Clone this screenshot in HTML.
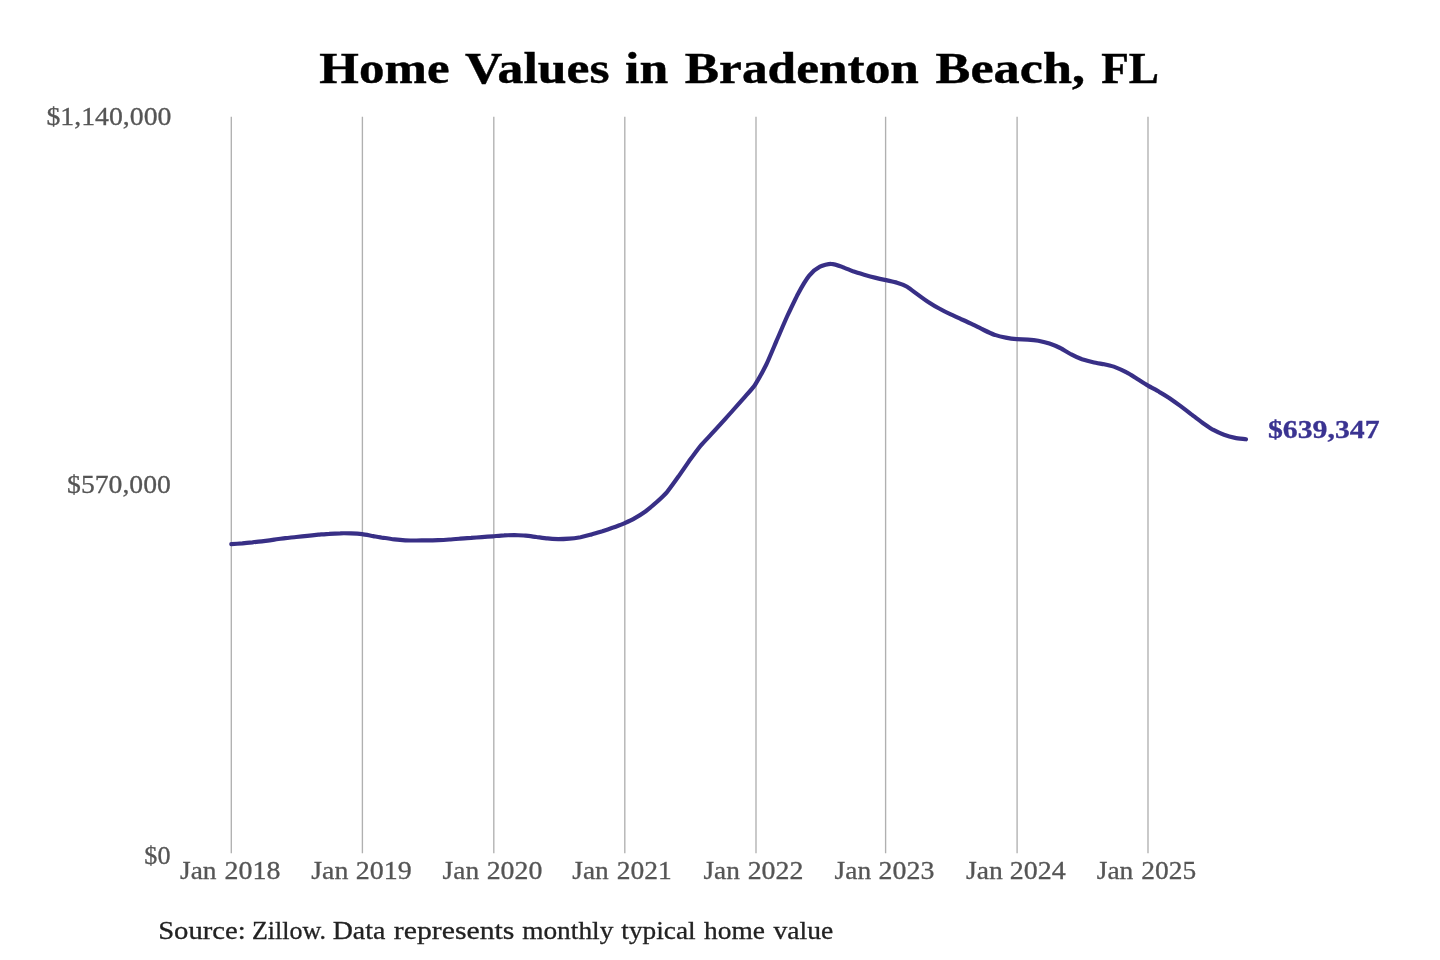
<!DOCTYPE html>
<html lang="en">
<head>
<meta charset="utf-8">
<title>Home Values in Bradenton Beach, FL</title>
<style>
  html, body { margin:0; padding:0; background:#ffffff; }
  body { width:1440px; height:960px; overflow:hidden; font-family:"Liberation Serif", serif; }
  svg { display:block; filter:blur(0.45px); }
  text { font-family:"Liberation Serif", serif; }
  .title { font-weight:bold; font-size:43.4px; fill:#000000; stroke:#000000; stroke-width:0.4px; }
  .ylab { font-size:25.3px; fill:#555555; stroke:#555555; stroke-width:0.3px; }
  .xlab { font-size:25.3px; fill:#555555; stroke:#555555; stroke-width:0.3px; }
  .endlab { font-weight:bold; font-size:24.8px; fill:#3a3391; stroke:#3a3391; stroke-width:0.3px; }
  .foot { font-size:25.3px; fill:#222222; stroke:#222222; stroke-width:0.3px; }
  .grid line { stroke:#b0b0b0; stroke-width:1.35; }
  .series { fill:none; stroke:#382f86; stroke-width:4.2; stroke-linecap:round; stroke-linejoin:round; }
</style>
</head>
<body>
<svg width="1440" height="960" viewBox="0 0 1440 960">
  <rect x="0" y="0" width="1440" height="960" fill="#ffffff"/>
  <text class="title" y="82.7"><tspan x="319.38" textLength="130.12" lengthAdjust="spacingAndGlyphs">Home</tspan> <tspan x="465.02" textLength="144.52" lengthAdjust="spacingAndGlyphs">Values</tspan> <tspan x="625.10" textLength="43.11" lengthAdjust="spacingAndGlyphs">in</tspan> <tspan x="684.85" textLength="234.07" lengthAdjust="spacingAndGlyphs">Bradenton</tspan> <tspan x="935.63" textLength="149.37" lengthAdjust="spacingAndGlyphs">Beach,</tspan> <tspan x="1101.26" textLength="57.79" lengthAdjust="spacingAndGlyphs">FL</tspan></text>
  <g class="grid">
    <line x1="231.3" y1="116.7" x2="231.3" y2="853.3"/>
    <line x1="362.4" y1="116.7" x2="362.4" y2="853.3"/>
    <line x1="493.8" y1="116.7" x2="493.8" y2="853.3"/>
    <line x1="624.8" y1="116.7" x2="624.8" y2="853.3"/>
    <line x1="756.0" y1="116.7" x2="756.0" y2="853.3"/>
    <line x1="885.6" y1="116.7" x2="885.6" y2="853.3"/>
    <line x1="1017.1" y1="116.7" x2="1017.1" y2="853.3"/>
    <line x1="1148.0" y1="116.7" x2="1148.0" y2="853.3"/>
  </g>
  <g>
    <text class="ylab" y="124.5"><tspan x="46.46" textLength="124.96" lengthAdjust="spacingAndGlyphs">$1,140,000</tspan></text>
    <text class="ylab" y="492.7"><tspan x="67.09" textLength="103.80" lengthAdjust="spacingAndGlyphs">$570,000</tspan></text>
    <text class="ylab" y="863.7"><tspan x="144.39" textLength="26.16" lengthAdjust="spacingAndGlyphs">$0</tspan></text>
  </g>
  <g>
    <text class="xlab" y="879.3"><tspan x="180.10" textLength="36.47" lengthAdjust="spacingAndGlyphs">Jan</tspan> <tspan x="224.62" textLength="55.80" lengthAdjust="spacingAndGlyphs">2018</tspan></text>
    <text class="xlab" y="879.3"><tspan x="311.23" textLength="37.13" lengthAdjust="spacingAndGlyphs">Jan</tspan> <tspan x="355.81" textLength="55.96" lengthAdjust="spacingAndGlyphs">2019</tspan></text>
    <text class="xlab" y="879.3"><tspan x="442.60" textLength="36.49" lengthAdjust="spacingAndGlyphs">Jan</tspan> <tspan x="486.70" textLength="55.67" lengthAdjust="spacingAndGlyphs">2020</tspan></text>
    <text class="xlab" y="879.3"><tspan x="572.33" textLength="36.39" lengthAdjust="spacingAndGlyphs">Jan</tspan> <tspan x="616.68" textLength="54.99" lengthAdjust="spacingAndGlyphs">2021</tspan></text>
    <text class="xlab" y="879.3"><tspan x="703.47" textLength="36.39" lengthAdjust="spacingAndGlyphs">Jan</tspan> <tspan x="747.68" textLength="55.72" lengthAdjust="spacingAndGlyphs">2022</tspan></text>
    <text class="xlab" y="879.3"><tspan x="834.64" textLength="36.55" lengthAdjust="spacingAndGlyphs">Jan</tspan> <tspan x="878.60" textLength="55.78" lengthAdjust="spacingAndGlyphs">2023</tspan></text>
    <text class="xlab" y="879.3"><tspan x="966.09" textLength="36.80" lengthAdjust="spacingAndGlyphs">Jan</tspan> <tspan x="1009.73" textLength="55.95" lengthAdjust="spacingAndGlyphs">2024</tspan></text>
    <text class="xlab" y="879.3"><tspan x="1096.72" textLength="36.61" lengthAdjust="spacingAndGlyphs">Jan</tspan> <tspan x="1141.35" textLength="54.87" lengthAdjust="spacingAndGlyphs">2025</tspan></text>
  </g>
  <path class="series" d="M231.3 544.2 C232.5 544.1 240.1 543.5 242.4 543.3 C244.8 543.0 250.1 542.5 252.5 542.3 C254.8 542.0 261.1 541.4 263.6 541.1 C266.0 540.8 271.9 540.0 274.3 539.6 C276.8 539.3 283.0 538.4 285.4 538.1 C287.9 537.9 293.8 537.2 296.2 537.0 C298.6 536.8 304.8 536.2 307.3 535.9 C309.8 535.7 316.0 535.0 318.4 534.7 C320.8 534.5 326.7 533.9 329.2 533.8 C331.6 533.6 337.9 533.3 340.3 533.3 C342.7 533.2 348.6 533.3 351.0 533.4 C353.5 533.5 359.7 533.9 362.2 534.2 C364.6 534.5 370.9 535.7 373.3 536.1 C375.6 536.5 381.0 537.5 383.3 537.8 C385.7 538.2 392.0 539.2 394.4 539.4 C396.9 539.7 402.7 540.2 405.2 540.3 C407.6 540.4 413.9 540.5 416.3 540.5 C418.7 540.5 424.6 540.4 427.0 540.4 C429.5 540.3 435.7 540.3 438.2 540.2 C440.6 540.1 446.8 539.7 449.3 539.5 C451.7 539.4 457.6 538.9 460.0 538.7 C462.5 538.5 468.7 538.0 471.1 537.9 C473.6 537.7 479.5 537.3 481.9 537.1 C484.3 536.9 490.5 536.5 493.0 536.3 C495.5 536.1 501.7 535.5 504.1 535.4 C506.5 535.2 512.1 535.0 514.5 535.0 C516.9 535.1 523.2 535.4 525.6 535.6 C528.1 535.8 534.0 536.7 536.4 537.0 C538.8 537.3 545.1 538.2 547.5 538.4 C549.9 538.7 555.8 539.1 558.3 539.2 C560.7 539.2 566.9 538.9 569.4 538.7 C571.8 538.5 578.1 537.6 580.5 537.2 C582.9 536.7 588.8 535.3 591.2 534.6 C593.7 534.0 599.9 531.9 602.4 531.2 C604.8 530.4 610.7 528.4 613.1 527.6 C615.5 526.7 621.8 524.5 624.2 523.4 C626.7 522.3 633.0 519.3 635.3 517.9 C637.7 516.6 643.0 513.2 645.4 511.5 C647.7 509.7 654.1 504.5 656.5 502.3 C658.9 500.1 664.8 494.6 667.2 491.8 C669.7 488.9 675.9 480.0 678.4 476.6 C680.8 473.2 686.7 464.5 689.1 461.1 C691.5 457.8 697.8 449.2 700.2 446.2 C702.7 443.2 708.9 436.8 711.3 434.2 C713.8 431.5 719.7 425.1 722.1 422.4 C724.5 419.7 730.8 412.8 733.2 410.0 C735.6 407.3 741.5 400.7 744.0 397.9 C746.4 395.1 752.6 388.4 755.1 384.7 C757.5 381.0 763.8 369.6 766.2 364.8 C768.5 360.0 773.9 347.0 776.2 341.6 C778.6 336.1 784.9 321.3 787.3 316.0 C789.8 310.7 795.7 298.2 798.1 293.7 C800.5 289.2 806.8 278.6 809.2 275.6 C811.6 272.6 817.5 268.0 820.0 266.7 C822.4 265.4 828.6 263.7 831.1 263.8 C833.6 263.8 839.8 266.0 842.2 266.9 C844.6 267.7 850.5 270.4 852.9 271.3 C855.4 272.1 861.6 274.1 864.1 274.8 C866.5 275.5 872.4 277.1 874.8 277.6 C877.2 278.2 883.5 279.6 885.9 280.1 C888.4 280.7 894.7 282.0 897.0 282.7 C899.4 283.4 904.7 285.4 907.1 286.8 C909.4 288.2 915.8 293.2 918.2 294.9 C920.6 296.7 926.5 301.0 929.0 302.5 C931.4 304.1 937.6 307.7 940.1 309.0 C942.5 310.4 948.4 313.3 950.8 314.4 C953.3 315.6 959.5 318.3 961.9 319.5 C964.4 320.6 970.6 323.4 973.0 324.6 C975.5 325.8 981.4 328.9 983.8 330.0 C986.2 331.2 992.5 334.1 994.9 334.9 C997.3 335.8 1003.2 337.2 1005.7 337.6 C1008.1 338.1 1014.3 339.0 1016.8 339.2 C1019.3 339.4 1025.5 339.4 1027.9 339.6 C1030.3 339.8 1035.9 340.4 1038.3 340.8 C1040.7 341.3 1047.0 342.8 1049.4 343.6 C1051.8 344.4 1057.7 346.8 1060.2 348.0 C1062.6 349.2 1068.8 353.2 1071.3 354.4 C1073.7 355.7 1079.6 358.4 1082.0 359.3 C1084.5 360.1 1090.7 361.7 1093.1 362.2 C1095.6 362.8 1101.8 363.8 1104.3 364.3 C1106.7 364.9 1112.6 366.2 1115.0 367.1 C1117.4 368.0 1123.7 370.9 1126.1 372.2 C1128.6 373.4 1134.5 377.2 1136.9 378.7 C1139.3 380.2 1145.5 384.2 1148.0 385.6 C1150.5 387.1 1156.8 390.4 1159.1 391.8 C1161.5 393.1 1166.8 396.4 1169.2 398.0 C1171.5 399.6 1177.8 404.1 1180.3 405.9 C1182.7 407.7 1188.6 412.2 1191.0 414.1 C1193.5 415.9 1199.7 420.8 1202.1 422.5 C1204.6 424.2 1210.5 428.3 1212.9 429.7 C1215.3 431.0 1221.5 433.9 1224.0 434.8 C1226.5 435.7 1232.7 437.4 1235.1 437.9 C1237.5 438.4 1244.7 439.1 1245.9 439.3"/>
  <text class="endlab" y="437.8"><tspan x="1268.00" textLength="111.54" lengthAdjust="spacingAndGlyphs">$639,347</tspan></text>
  <text class="foot" y="938.6"><tspan x="158.15" textLength="87.52" lengthAdjust="spacingAndGlyphs">Source:</tspan> <tspan x="251.97" textLength="74.03" lengthAdjust="spacingAndGlyphs">Zillow.</tspan> <tspan x="332.67" textLength="52.63" lengthAdjust="spacingAndGlyphs">Data</tspan> <tspan x="393.89" textLength="120.53" lengthAdjust="spacingAndGlyphs">represents</tspan> <tspan x="522.16" textLength="91.18" lengthAdjust="spacingAndGlyphs">monthly</tspan> <tspan x="621.39" textLength="74.34" lengthAdjust="spacingAndGlyphs">typical</tspan> <tspan x="704.08" textLength="60.88" lengthAdjust="spacingAndGlyphs">home</tspan> <tspan x="773.47" textLength="59.66" lengthAdjust="spacingAndGlyphs">value</tspan></text>
</svg>
</body>
</html>
